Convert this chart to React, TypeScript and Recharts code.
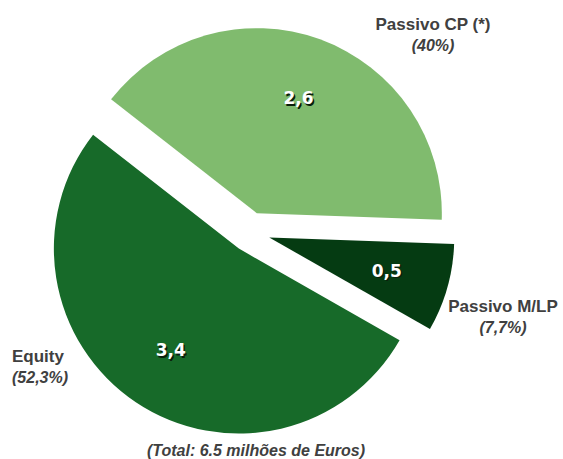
import React from "react";
import { PieChart, Pie, Sector, Cell } from "recharts";

// Estrutura de financiamento (milhões de euros)
const names = ["Passivo CP (*)", "Passivo M/LP", "Equity"];
const values = [2.6, 0.5, 3.4];
const valueLabels = ["2,6", "0,5", "3,4"];
const percentLabels = ["(40%)", "(7,7%)", "(52,3%)"];
const totalLabel = "(Total: 6.5 milhões de Euros)";

const colors = ["#80bb6e", "#053b12", "#176a29"];
const RADIAN = Math.PI / 180;
const EXPLODE = 20;

// where the outer name/percent labels go, relative to the pie centre
const outerLabelPos = [
  { dx: 183, dy: -202, anchor: "middle" },
  { dx: 253, dy: 80, anchor: "middle" },
  { dx: -238, dy: 130, anchor: "start" },
];

const data = names.map((name, i) => ({ name, value: values[i] }));

const explodeShift = (midAngle: number) => ({
  x: Math.cos(-midAngle * RADIAN) * EXPLODE,
  y: Math.sin(-midAngle * RADIAN) * EXPLODE,
});

const ExplodedSector = (props: any) => {
  const s = explodeShift(props.midAngle);
  return (
    <Sector
      cx={props.cx + s.x}
      cy={props.cy + s.y}
      innerRadius={0}
      outerRadius={props.outerRadius}
      startAngle={props.startAngle}
      endAngle={props.endAngle}
      fill={props.fill}
      stroke="none"
    />
  );
};

const renderLabel = (props: any) => {
  const { cx, cy, midAngle, outerRadius, index } = props;
  const s = explodeShift(midAngle);
  const r = outerRadius * 0.66;
  const x = cx + s.x + Math.cos(-midAngle * RADIAN) * r;
  const y = cy + s.y + Math.sin(-midAngle * RADIAN) * r;
  const o = outerLabelPos[index];
  return (
    <g>
      <text
        x={x + 1.5}
        y={y + 1.5}
        textAnchor="middle"
        dominantBaseline="central"
        fill="#0b1f0b"
        fontFamily="DejaVu Sans"
        fontWeight="bold"
        fontSize={17}
      >
        {valueLabels[index]}
      </text>
      <text
        x={x}
        y={y}
        textAnchor="middle"
        dominantBaseline="central"
        fill="#ffffff"
        fontFamily="DejaVu Sans"
        fontWeight="bold"
        fontSize={17}
      >
        {valueLabels[index]}
      </text>
      <text
        x={cx + o.dx}
        y={cy + o.dy}
        textAnchor={o.anchor}
        fill="#404040"
        fontFamily="Liberation Sans, Arial"
        fontWeight="bold"
        fontSize={17}
      >
        {names[index]}
      </text>
      <text
        x={cx + o.dx}
        y={cy + o.dy + 21}
        textAnchor={o.anchor}
        fill="#404040"
        fontFamily="Liberation Sans, Arial"
        fontWeight="bold"
        fontStyle="italic"
        fontSize={16}
      >
        {percentLabels[index]}
      </text>
    </g>
  );
};

export default function App() {
  return (
    <div style={{ position: "absolute", left: 0, top: 0, background: "#fff" }}>
      <PieChart width={563} height={459}>
        <Pie
          data={data}
          dataKey="value"
          nameKey="name"
          cx={245}
          cy={227}
          outerRadius={185}
          startAngle={142}
          endAngle={-218}
          stroke="none"
          shape={ExplodedSector}
          label={renderLabel}
          labelLine={false}
          isAnimationActive={false}
        >
          {data.map((d, i) => (
            <Cell key={d.name} fill={colors[i]} />
          ))}
        </Pie>
        <text
          x={256}
          y={456}
          textAnchor="middle"
          fill="#404040"
          fontFamily="Liberation Sans, Arial"
          fontWeight="bold"
          fontStyle="italic"
          fontSize={16}
        >
          {totalLabel}
        </text>
      </PieChart>
    </div>
  );
}
